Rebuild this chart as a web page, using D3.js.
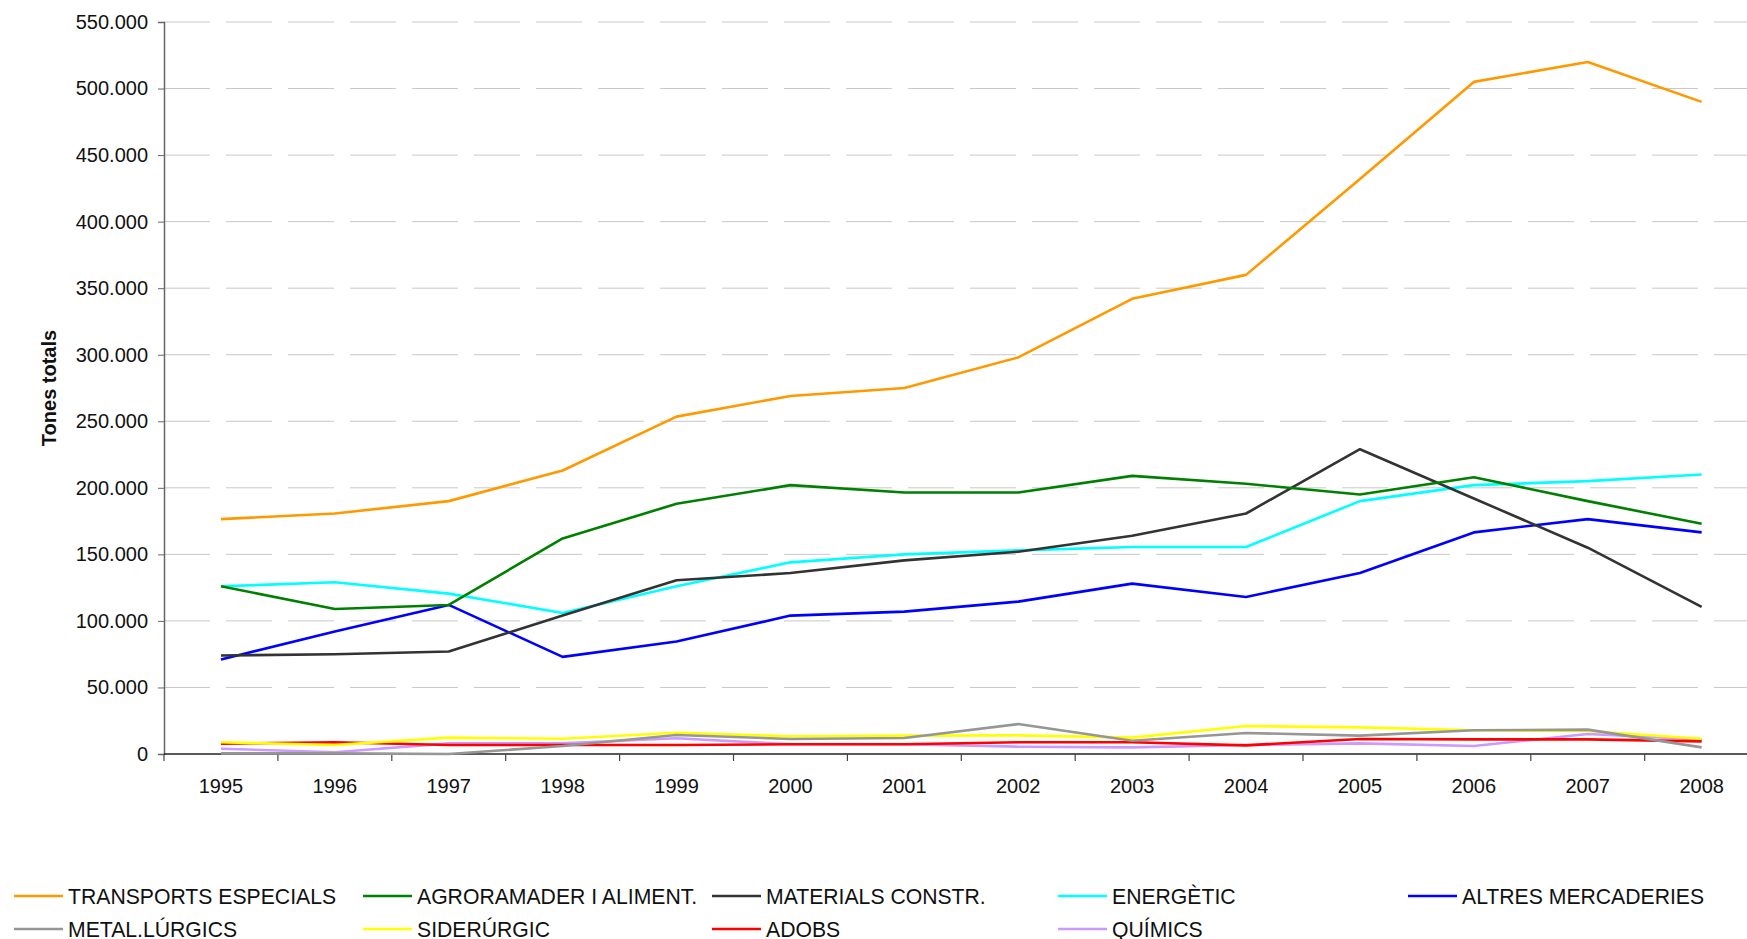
<!DOCTYPE html>
<html>
<head>
<meta charset="utf-8">
<script src="https://cdn.jsdelivr.net/npm/d3@7"></script>
<style>
  body { margin: 0; background: #fff; }
  svg { display: block; font-family: "Liberation Sans", Arial, sans-serif; }
</style>
</head>
<body>
<div id="container"></div>
<script>
const w = 1747;
const h = 939;

const years = ["1995", "1996", "1997", "1998", "1999", "2000", "2001", "2002", "2003", "2004", "2005", "2006", "2007", "2008"];
const yTicks = [0, 50000, 100000, 150000, 200000, 250000, 300000, 350000, 400000, 450000, 500000, 550000];

const transports = [176500, 180700, 190000, 213000, 253500, 269000, 275000, 298000, 342000, 360000, 432000, 505000, 520000, 490000];
const agroramader = [126000, 109000, 112000, 162000, 188000, 202000, 196500, 196500, 209000, 203000, 195000, 208000, 190000, 173000];
const materials = [74000, 75000, 77000, 104000, 130500, 136000, 145500, 152000, 164000, 180700, 229000, 192000, 155000, 110500];
const energetic = [126000, 129000, 120500, 106000, 126000, 144000, 150000, 153000, 155500, 155500, 190000, 202000, 205000, 210000];
const altres = [71000, 92000, 112000, 73000, 84500, 104000, 107000, 114500, 128000, 118000, 136000, 166500, 176500, 166500];
const metallurgics = [500, 500, 0, 6000, 14300, 11300, 12000, 22500, 10000, 15800, 13800, 17800, 18300, 5000];
const siderurgic = [8800, 6800, 12300, 11500, 16000, 13300, 13800, 14000, 12300, 21000, 20000, 17800, 17300, 11500];
const adobs = [7800, 8800, 6800, 6800, 6800, 7300, 7300, 8800, 8800, 6500, 11300, 11000, 11000, 9500];
const quimics = [4000, 1300, 8000, 8000, 11800, 7300, 7300, 5500, 5000, 6800, 8000, 6000, 15000, 11000];

const seriesNames = ["TRANSPORTS ESPECIALS", "AGRORAMADER I ALIMENT.", "MATERIALS CONSTR.", "ENERGÈTIC", "ALTRES MERCADERIES",
  "METAL.LÚRGICS", "SIDERÚRGIC", "ADOBS", "QUÍMICS"];
const seriesValues = [transports, agroramader, materials, energetic, altres, metallurgics, siderurgic, adobs, quimics];
const seriesColors = ["#ff9900", "#008000", "#333333", "#00ffff", "#0000ff", "#969696", "#ffff00", "#ff0000", "#cc99ff"];

const series = seriesNames.map((name, i) => ({ name: name, values: seriesValues[i], color: seriesColors[i] }));

const plotLeft = 164, plotTop = 22, plotBottom = 754;
const bandW = 113.9;

const svg = d3.select("#container").append("svg")
  .attr("width", w).attr("height", h);

const x = d3.scalePoint()
  .domain(years)
  .range([plotLeft + bandW / 2, plotLeft + bandW * (years.length - 0.5)]);

const y = d3.scaleLinear()
  .domain([0, 550000])
  .range([plotBottom, plotTop]);

// gridlines
svg.append("g")
  .selectAll("line").data(yTicks.slice(1)).enter().append("line")
  .attr("x1", plotLeft).attr("x2", w)
  .attr("y1", d => y(d)).attr("y2", d => y(d))
  .attr("stroke", "#c8c8c8")
  .attr("stroke-width", 1)
  .attr("stroke-dasharray", "46,16");

const fmt = d => d3.format(",")(d).replace(/,/g, ".");

const yAxis = d3.axisLeft(y).tickValues(yTicks).tickFormat(fmt).tickSize(6).tickPadding(10);
const yAxisGroup = svg.append("g")
  .attr("transform", "translate(" + plotLeft + ", 0)")
  .call(yAxis);
yAxisGroup.select(".domain").attr("stroke", "#666").attr("stroke-width", 1.5);
yAxisGroup.selectAll(".tick line").attr("stroke", "#666");
yAxisGroup.selectAll("text").attr("font-size", 20).attr("fill", "#111")
  .attr("font-family", "Liberation Sans, Arial, sans-serif");

// x axis
svg.append("line")
  .attr("x1", plotLeft).attr("x2", plotLeft + bandW * years.length)
  .attr("y1", plotBottom).attr("y2", plotBottom)
  .attr("stroke", "#222").attr("stroke-width", 1.5);

svg.append("g")
  .selectAll("line").data(d3.range(years.length + 1)).enter().append("line")
  .attr("x1", i => plotLeft + i * bandW).attr("x2", i => plotLeft + i * bandW)
  .attr("y1", plotBottom).attr("y2", plotBottom + 7)
  .attr("stroke", "#444").attr("stroke-width", 1.2);

svg.append("g")
  .selectAll("text").data(years).enter().append("text")
  .attr("x", d => x(d))
  .attr("y", 793)
  .attr("text-anchor", "middle")
  .attr("font-size", 20)
  .attr("fill", "#111")
  .text(d => d);

svg.append("text")
  .attr("transform", "translate(56, " + ((plotTop + plotBottom) / 2) + ") rotate(-90)")
  .attr("text-anchor", "middle")
  .attr("font-size", 20)
  .attr("font-weight", "bold")
  .attr("fill", "#111")
  .text("Tones totals");

const line = d3.line()
  .x((d, i) => x(years[i]))
  .y(d => y(d));

// draw in reverse so first series sits on top
svg.append("g")
  .selectAll("path").data(series.slice().reverse()).enter().append("path")
  .attr("d", d => line(d.values))
  .attr("fill", "none")
  .attr("stroke", d => d.color)
  .attr("stroke-width", 2.6)
  .attr("stroke-linejoin", "round");

// legend
const legX = [14, 363, 712, 1058, 1408];
const legY = [896, 929];
const leg = svg.append("g")
  .selectAll("g").data(series).enter().append("g")
  .attr("transform", (d, i) => "translate(" + legX[i % 5] + "," + legY[Math.floor(i / 5)] + ")");
leg.append("line")
  .attr("x1", 0).attr("x2", 49)
  .attr("stroke", d => d.color)
  .attr("stroke-width", 2.6);
leg.append("text")
  .attr("x", 54)
  .attr("y", 7.5)
  .attr("font-size", 21.2)
  .attr("fill", "#111")
  .text(d => d.name);
</script>
</body>
</html>
